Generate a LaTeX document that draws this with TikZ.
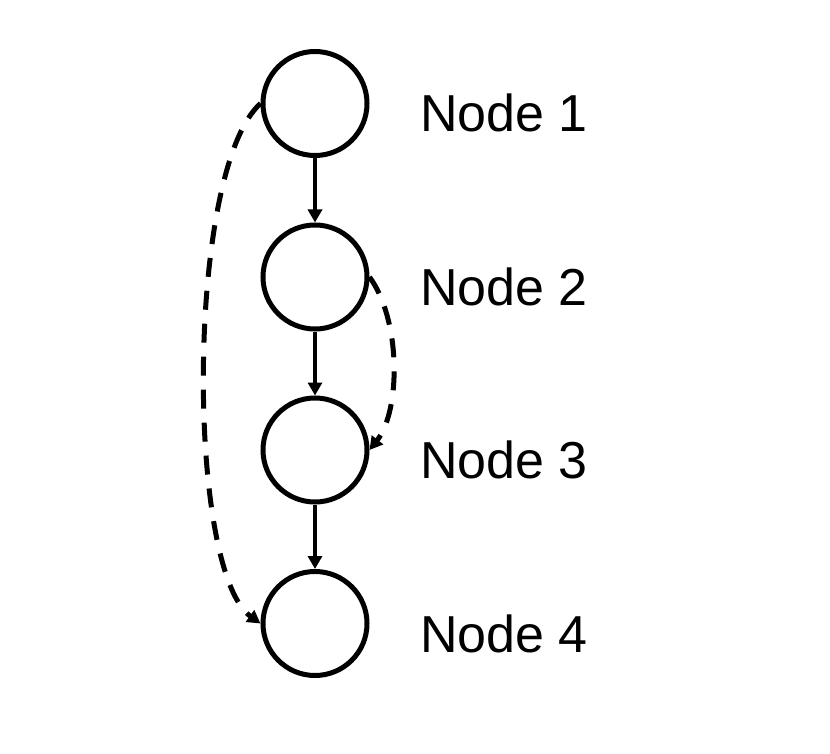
\documentclass[tikz,border=0pt]{standalone}
\usepackage{fontspec}
\setmainfont{Liberation Sans}
\usetikzlibrary{arrows.meta}
\begin{document}
\begin{tikzpicture}[x=1pt,y=-1pt,
  circ/.style={circle,draw,line width=5pt,minimum size=104pt,inner sep=0pt},
  lab/.style={anchor=base west,inner sep=0pt,font=\fontsize{52}{60}\selectfont},
  tip/.style={-{Triangle[length=13pt,width=14pt]}},
  solidarr/.style={line width=4.5pt,tip},
  dasharr/.style={line width=5pt,tip,dash pattern=on 19pt off 14pt}]
\useasboundingbox (0,0) rectangle (830,754);
\node[circ] (n1) at (315,103.5) {};
\node[circ] (n2) at (315,277) {};
\node[circ] (n3) at (315,450) {};
\node[circ] (n4) at (315,623.5) {};
\node[lab] (l1) at (420,131.5) {Node 1};
\node[lab] (l2) at (420,305) {Node 2};
\node[lab] (l3) at (420,478) {Node 3};
\node[lab] (l4) at (420,652) {Node 4};
\draw[solidarr] (n1.south) -- (n2.north);
\draw[solidarr] (n2.south) -- (n3.north);
\draw[solidarr] (n3.south) -- (n4.north);
\draw[dasharr] (n1.west) .. controls (186,170) and (186,570) .. (n4.west);
\draw[dasharr] (n2.east) .. controls (401,320) and (401,410) .. (n3.east);
\end{tikzpicture}
\end{document}
